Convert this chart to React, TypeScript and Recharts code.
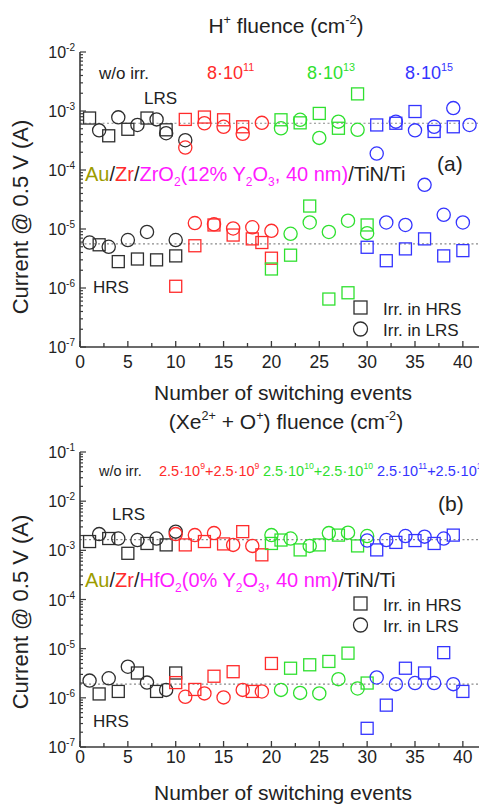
import React from "react";
import { ScatterChart, Scatter, XAxis, YAxis, ReferenceLine } from "recharts";

const FONT = "'Liberation Sans', Arial, Helvetica, sans-serif";
const AXIS = "#3a3a3a";
const BLACK = "#2e2e2e";
const RED = "#ff2b2b";
const GREEN = "#2fe02f";
const BLUE = "#3434ff";
const OLIVE = "#9c9c00";
const MAGENTA = "#ff1aff";

type P = [number, number];

// ---- panel (a): Au/Zr/ZrO2(12% Y2O3), H+ irradiation ----
const A_LRS_BLACK_SQ: P[] = [[1, 7.6e-4], [3, 3.8e-4], [5, 4.9e-4], [7, 7.6e-4], [9, 4.8e-4]];
const A_LRS_BLACK_CI: P[] = [[2, 4.7e-4], [4, 7.8e-4], [6, 5.8e-4], [8, 7.2e-4], [9, 4.2e-4], [11, 3.2e-4]];
const A_LRS_RED_SQ: P[] = [[11, 7.2e-4], [13, 7.9e-4], [15, 7.1e-4], [17, 5.4e-4]];
const A_LRS_RED_CI: P[] = [[11, 2.4e-4], [13, 6.2e-4], [15, 5.4e-4], [17, 4.1e-4], [19, 6.3e-4]];
const A_LRS_GREEN_SQ: P[] = [[21, 7.1e-4], [23, 6.3e-4], [25, 9.1e-4], [27, 5.1e-4], [29, 1.95e-3]];
const A_LRS_GREEN_CI: P[] = [[21, 5.1e-4], [23, 7.1e-4], [25, 3.5e-4], [27, 6.6e-4], [29, 4.8e-4]];
const A_LRS_BLUE_SQ: P[] = [[31, 5.8e-4], [33, 6.2e-4], [35, 9.8e-4], [37, 4.5e-4], [39, 5.4e-4]];
const A_LRS_BLUE_CI: P[] = [[31, 1.9e-4], [33, 6.6e-4], [35, 4.7e-4], [36, 5.6e-5], [37, 5.4e-4], [39, 1.12e-3], [40.7, 5.8e-4]];

const A_HRS_BLACK_SQ: P[] = [[2, 5.4e-6], [4, 2.8e-6], [6, 3.1e-6], [8, 3.0e-6], [10, 3.5e-6]];
const A_HRS_BLACK_CI: P[] = [[1, 5.9e-6], [3, 5.0e-6], [5, 6.5e-6], [7, 8.9e-6], [10, 6.5e-6]];
const A_HRS_RED_SQ: P[] = [[10, 1.07e-6], [12, 5.2e-6], [14, 1.17e-5], [16, 7.9e-6], [18, 6.8e-6], [19, 5.9e-6], [20, 3.2e-6]];
const A_HRS_RED_CI: P[] = [[12, 1.26e-5], [14, 1.2e-5], [16, 1.02e-5], [18, 1.07e-5], [20, 9.3e-6]];
const A_HRS_GREEN_SQ: P[] = [[20, 2.1e-6], [22, 3.6e-6], [24, 2.45e-5], [26, 6.5e-7], [28, 8.3e-7], [30, 1.17e-5]];
const A_HRS_GREEN_CI: P[] = [[22, 8.3e-6], [24, 1.29e-5], [26, 8.9e-6], [28, 1.38e-5], [30, 8.5e-6]];
const A_HRS_BLUE_SQ: P[] = [[30, 4.9e-6], [32, 2.9e-6], [34, 4.6e-6], [36, 6.8e-6], [38, 3.5e-6], [40, 4.3e-6]];
const A_HRS_BLUE_CI: P[] = [[32, 1.29e-5], [34, 1.17e-5], [38, 1.74e-5], [40, 1.29e-5]];

const A_LRS_MEAN = 6.2e-4;
const A_HRS_MEAN = 5.6e-6;

// ---- panel (b): Au/Zr/HfO2(0% Y2O3), Xe2+ + O+ irradiation ----
const B_LRS_BLACK_SQ: P[] = [[1, 1.51e-3], [3, 1.74e-3], [5, 8.7e-4], [7, 1.38e-3], [9, 1.29e-3]];
const B_LRS_BLACK_CI: P[] = [[2, 2.14e-3], [4, 1.74e-3], [6, 1.62e-3], [8, 1.74e-3], [10, 2.4e-3]];
const B_LRS_RED_SQ: P[] = [[11, 1.29e-3], [13, 1.51e-3], [15, 1.35e-3], [17, 2.4e-3], [19, 8.1e-4]];
const B_LRS_RED_CI: P[] = [[10, 2.14e-3], [12, 2.04e-3], [14, 2.24e-3], [16, 1.29e-3], [18, 1.23e-3]];
const B_LRS_GREEN_SQ: P[] = [[20, 1.38e-3], [21, 1.62e-3], [23, 1.02e-3], [25, 1.29e-3], [27, 2.04e-3], [29, 1.23e-3]];
const B_LRS_GREEN_CI: P[] = [[20, 2.04e-3], [22, 1.74e-3], [24, 1.23e-3], [26, 2.24e-3], [28, 2.29e-3], [30, 1.95e-3]];
const B_LRS_BLUE_SQ: P[] = [[31, 1.02e-3], [33, 1.45e-3], [35, 1.58e-3], [37, 1.38e-3], [39, 2.04e-3]];
const B_LRS_BLUE_CI: P[] = [[30, 1.58e-3], [32, 1.62e-3], [34, 1.95e-3], [36, 1.9e-3], [38, 1.74e-3]];

const B_HRS_BLACK_SQ: P[] = [[2, 1.2e-6], [4, 1.35e-6], [6, 3.2e-6], [8, 1.35e-6], [10, 3.2e-6]];
const B_HRS_BLACK_CI: P[] = [[1, 2.24e-6], [3, 2.5e-6], [5, 4.3e-6], [7, 2.04e-6], [9, 1.45e-6]];
const B_HRS_RED_SQ: P[] = [[10, 2.04e-6], [12, 1.48e-6], [14, 2.75e-6], [16, 3.4e-6], [18, 1.35e-6], [20, 5.0e-6]];
const B_HRS_RED_CI: P[] = [[11, 1.05e-6], [13, 1.23e-6], [15, 1.02e-6], [17, 1.45e-6], [19, 1.35e-6]];
const B_HRS_GREEN_SQ: P[] = [[22, 4.0e-6], [24, 4.7e-6], [26, 5.5e-6], [28, 8.1e-6], [30, 2.0e-6]];
const B_HRS_GREEN_CI: P[] = [[21, 1.45e-6], [23, 1.26e-6], [25, 1.23e-6], [27, 2.4e-6], [29, 1.55e-6]];
const B_HRS_BLUE_SQ: P[] = [[30, 2.4e-7], [32, 7.1e-7], [34, 4.0e-6], [36, 3.2e-6], [38, 8.3e-6], [40, 1.35e-6]];
const B_HRS_BLUE_CI: P[] = [[31, 2.6e-6], [33, 1.9e-6], [35, 2.0e-6], [37, 2.0e-6], [39, 1.9e-6]];

const B_LRS_MEAN = 1.65e-3;
const B_HRS_MEAN = 1.9e-6;

const X_TICKS = [0, 2.5, 5, 7.5, 10, 12.5, 15, 17.5, 20, 22.5, 25, 27.5, 30, 32.5, 35, 37.5, 40];

function logTicks(lo: number, hi: number) {
  const out: number[] = [];
  for (let d = lo; d <= hi; d++) {
    for (let k = 1; k <= 9; k++) {
      if (d === hi && k > 1) break;
      out.push(k * Math.pow(10, d));
    }
  }
  return out;
}

type Series = { pts: P[]; color: string; shape: "sq" | "ci" };

const A_SERIES: Series[] = [
  { pts: A_LRS_BLACK_SQ, color: BLACK, shape: "sq" },
  { pts: A_LRS_BLACK_CI, color: BLACK, shape: "ci" },
  { pts: A_LRS_RED_SQ, color: RED, shape: "sq" },
  { pts: A_LRS_RED_CI, color: RED, shape: "ci" },
  { pts: A_LRS_GREEN_SQ, color: GREEN, shape: "sq" },
  { pts: A_LRS_GREEN_CI, color: GREEN, shape: "ci" },
  { pts: A_LRS_BLUE_SQ, color: BLUE, shape: "sq" },
  { pts: A_LRS_BLUE_CI, color: BLUE, shape: "ci" },
  { pts: A_HRS_BLACK_SQ, color: BLACK, shape: "sq" },
  { pts: A_HRS_BLACK_CI, color: BLACK, shape: "ci" },
  { pts: A_HRS_RED_SQ, color: RED, shape: "sq" },
  { pts: A_HRS_RED_CI, color: RED, shape: "ci" },
  { pts: A_HRS_GREEN_SQ, color: GREEN, shape: "sq" },
  { pts: A_HRS_GREEN_CI, color: GREEN, shape: "ci" },
  { pts: A_HRS_BLUE_SQ, color: BLUE, shape: "sq" },
  { pts: A_HRS_BLUE_CI, color: BLUE, shape: "ci" },
];

const B_SERIES: Series[] = [
  { pts: B_LRS_BLACK_SQ, color: BLACK, shape: "sq" },
  { pts: B_LRS_BLACK_CI, color: BLACK, shape: "ci" },
  { pts: B_LRS_RED_SQ, color: RED, shape: "sq" },
  { pts: B_LRS_RED_CI, color: RED, shape: "ci" },
  { pts: B_LRS_GREEN_SQ, color: GREEN, shape: "sq" },
  { pts: B_LRS_GREEN_CI, color: GREEN, shape: "ci" },
  { pts: B_LRS_BLUE_SQ, color: BLUE, shape: "sq" },
  { pts: B_LRS_BLUE_CI, color: BLUE, shape: "ci" },
  { pts: B_HRS_BLACK_SQ, color: BLACK, shape: "sq" },
  { pts: B_HRS_BLACK_CI, color: BLACK, shape: "ci" },
  { pts: B_HRS_RED_SQ, color: RED, shape: "sq" },
  { pts: B_HRS_RED_CI, color: RED, shape: "ci" },
  { pts: B_HRS_GREEN_SQ, color: GREEN, shape: "sq" },
  { pts: B_HRS_GREEN_CI, color: GREEN, shape: "ci" },
  { pts: B_HRS_BLUE_SQ, color: BLUE, shape: "sq" },
  { pts: B_HRS_BLUE_CI, color: BLUE, shape: "ci" },
];

const markShape = (color: string, shape: "sq" | "ci") => (props: any) => {
  const { cx, cy } = props;
  if (cx == null || cy == null) return <g />;
  if (shape === "sq")
    return <rect x={cx - 6} y={cy - 6} width={12} height={12} fill="none" stroke={color} strokeWidth={1.3} />;
  return <circle cx={cx} cy={cy} r={6.6} fill="none" stroke={color} strokeWidth={1.3} />;
};

function BottomTick(props: any) {
  const { x, y, payload, labelDy } = props;
  const v = payload.value;
  const major = v % 5 === 0;
  return (
    <g>
      <line x1={x} x2={x} y1={y} y2={y - (major ? 6 : 4)} stroke={AXIS} strokeWidth={1.3} />
      {major && (
        <text x={x} y={y + labelDy} textAnchor="middle" fontSize={17.5} fill="#222" fontFamily={FONT}>
          {v}
        </text>
      )}
    </g>
  );
}

function TopTick(props: any) {
  const { x, y, payload } = props;
  const major = payload.value % 5 === 0;
  return <line x1={x} x2={x} y1={y} y2={y + (major ? 6 : 4)} stroke={AXIS} strokeWidth={1.3} />;
}

function LeftTick(props: any) {
  const { x, y, payload } = props;
  const e = Math.log10(payload.value);
  const major = Math.abs(e - Math.round(e)) < 1e-6;
  return (
    <g>
      <line x1={x} x2={x + (major ? 6 : 3)} y1={y} y2={y} stroke={AXIS} strokeWidth={1.2} />
      {major && (
        <text x={x - 5} y={y + 6} textAnchor="end" fontSize={16} fill="#222" fontFamily={FONT}>
          10
          <tspan dy={-7} fontSize={10}>
            {Math.round(e)}
          </tspan>
        </text>
      )}
    </g>
  );
}

function Panel({
  series,
  lo,
  hi,
  means,
  height,
  labelDy,
}: {
  series: Series[];
  lo: number;
  hi: number;
  means: number[];
  height: number;
  labelDy: number;
}) {
  const yTicks = logTicks(lo, hi);
  return (
    <ScatterChart width={490} height={height} margin={{ top: 52, right: 8, bottom: height - 347 - 30, left: 30 }}>
      <XAxis
        xAxisId="b"
        type="number"
        dataKey="x"
        domain={[0, 42]}
        ticks={X_TICKS}
        interval={0}
        height={30}
        tickSize={0}
        tickMargin={0}
        tickLine={false}
        tick={<BottomTick labelDy={labelDy} />}
        axisLine={{ stroke: AXIS, strokeWidth: 1.6 }}
      />
      <XAxis
        xAxisId="t"
        orientation="top"
        type="number"
        dataKey="x"
        domain={[0, 42]}
        ticks={X_TICKS}
        interval={0}
        height={0}
        tickSize={0}
        tickMargin={0}
        tickLine={false}
        tick={<TopTick />}
        axisLine={{ stroke: AXIS, strokeWidth: 1.6 }}
      />
      <YAxis
        type="number"
        dataKey="y"
        scale="log"
        domain={[Math.pow(10, lo), Math.pow(10, hi)]}
        allowDataOverflow
        ticks={yTicks}
        interval={0}
        width={50}
        tickSize={0}
        tickMargin={0}
        tickLine={false}
        tick={<LeftTick />}
        axisLine={{ stroke: AXIS, strokeWidth: 1.6 }}
      />
      {means.map((m, i) => (
        <ReferenceLine key={i} xAxisId="b" y={m} stroke="#8a8a8a" strokeWidth={1.2} strokeDasharray="2 2.5" />
      ))}
      {series.map((s, i) => (
        <Scatter
          key={i}
          xAxisId="b"
          data={s.pts.map(([x, y]) => ({ x, y }))}
          shape={markShape(s.color, s.shape)}
          isAnimationActive={false}
        />
      ))}
    </ScatterChart>
  );
}

function T({
  x,
  y,
  size,
  color = "#222",
  center = false,
  children,
}: {
  x: number;
  y: number;
  size: number;
  color?: string;
  center?: boolean;
  children: React.ReactNode;
}) {
  return (
    <div
      style={{
        position: "absolute",
        left: x,
        top: y,
        fontSize: size,
        lineHeight: 1,
        color,
        whiteSpace: "nowrap",
        transform: center ? "translate(-50%, -50%)" : "translateY(-50%)",
      }}
    >
      {children}
    </div>
  );
}

const Sup = ({ children }: { children: React.ReactNode }) => (
  <span style={{ fontSize: "0.6em", position: "relative", top: "-0.75em" }}>{children}</span>
);
const Sub = ({ children }: { children: React.ReactNode }) => (
  <span style={{ fontSize: "0.6em", position: "relative", top: "0.4em" }}>{children}</span>
);

function LegendBox({ y }: { y: number }) {
  return (
    <>
      <svg style={{ position: "absolute", left: 352, top: y - 11 }} width={18} height={44}>
        <rect x={2} y={3} width={13} height={13} fill="none" stroke={BLACK} strokeWidth={1.3} />
        <circle cx={8.5} cy={31} r={7} fill="none" stroke={BLACK} strokeWidth={1.3} />
      </svg>
      <T x={383} y={y} size={17}>Irr. in HRS</T>
      <T x={383} y={y + 21} size={17}>Irr. in LRS</T>
    </>
  );
}

function YLabel({ cy }: { cy: number }) {
  return (
    <div
      style={{
        position: "absolute",
        left: 21,
        top: cy,
        fontSize: 22,
        lineHeight: 1,
        color: "#222",
        whiteSpace: "nowrap",
        transform: "translate(-50%, -50%) rotate(-90deg)",
      }}
    >
      Current @ 0.5 V (A)
    </div>
  );
}

export default function App() {
  return (
    <div
      style={{
        position: "absolute",
        left: 0,
        top: 0,
        width: 479,
        height: 804,
        overflow: "hidden",
        background: "#fff",
        fontFamily: FONT,
      }}
    >
      <div style={{ position: "absolute", left: 0, top: 0 }}>
        <Panel series={A_SERIES} lo={-7} hi={-2} means={[A_LRS_MEAN, A_HRS_MEAN]} height={400} labelDy={21} />
      </div>
      <div style={{ position: "absolute", left: 0, top: 400 }}>
        <Panel series={B_SERIES} lo={-7} hi={-1} means={[B_LRS_MEAN, B_HRS_MEAN]} height={404} labelDy={16} />
      </div>

      {/* panel (a) texts */}
      <T x={286} y={25} size={21} center>
        H<Sup>+</Sup> fluence (cm<Sup>-2</Sup>)
      </T>
      <T x={99} y={73} size={17}>w/o irr.</T>
      <T x={207} y={73} size={18} color={RED}>
        8·10<Sup>11</Sup>
      </T>
      <T x={307} y={73} size={18} color={GREEN}>
        8·10<Sup>13</Sup>
      </T>
      <T x={405} y={73} size={18} color={BLUE}>
        8·10<Sup>15</Sup>
      </T>
      <T x={144} y={98} size={17}>LRS</T>
      <T x={85} y={174} size={20}>
        <span style={{ color: OLIVE }}>Au</span>/<span style={{ color: RED }}>Zr</span>/
        <span style={{ color: MAGENTA }}>
          ZrO<Sub>2</Sub>(12% Y<Sub>2</Sub>O<Sub>3</Sub>, 40 nm)
        </span>
        /TiN/Ti
      </T>
      <T x={437} y={163} size={21}>(a)</T>
      <T x={93} y={287} size={17}>HRS</T>
      <LegendBox y={309} />
      <T x={283} y={392} size={21} center>
        Number of switching events
      </T>
      <YLabel cy={217} />

      {/* panel (b) texts */}
      <T x={286} y={421} size={21} center>
        (Xe<Sup>2+</Sup> + O<Sup>+</Sup>) fluence (cm<Sup>-2</Sup>)
      </T>
      <T x={99} y={471} size={14.5}>w/o irr.</T>
      <T x={159} y={471} size={14.5} color={RED}>
        2.5·10<Sup>9</Sup>+2.5·10<Sup>9</Sup>
      </T>
      <T x={263} y={471} size={14.5} color={GREEN}>
        2.5·10<Sup>10</Sup>+2.5·10<Sup>10</Sup>
      </T>
      <T x={377} y={471} size={14.5} color={BLUE}>
        2.5·10<Sup>11</Sup>+2.5·10<Sup>11</Sup>
      </T>
      <T x={112} y={514} size={17}>LRS</T>
      <T x={438} y={503} size={21}>(b)</T>
      <T x={85} y={580} size={20}>
        <span style={{ color: OLIVE }}>Au</span>/<span style={{ color: RED }}>Zr</span>/
        <span style={{ color: MAGENTA }}>
          HfO<Sub>2</Sub>(0% Y<Sub>2</Sub>O<Sub>3</Sub>, 40 nm)
        </span>
        /TiN/Ti
      </T>
      <LegendBox y={605} />
      <T x={93} y={721} size={17}>HRS</T>
      <T x={283} y={792} size={21} center>
        Number of switching events
      </T>
      <YLabel cy={612} />
    </div>
  );
}
